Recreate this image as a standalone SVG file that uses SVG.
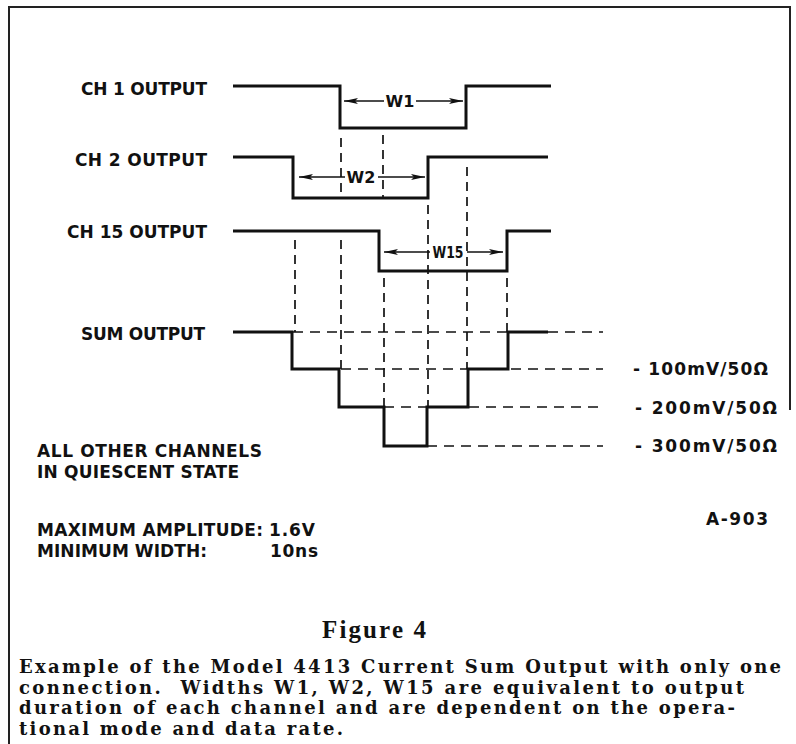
<svg xmlns="http://www.w3.org/2000/svg" width="796" height="744" viewBox="0 0 796 744">
<style>
.bg{fill:#fff}
.frame{fill:none;stroke:#222;stroke-width:2}
.wave{fill:none;stroke:#111;stroke-width:3;stroke-linejoin:miter}
.guide{fill:none;stroke:#111;stroke-width:1.7;stroke-dasharray:9 6}
.hguide{fill:none;stroke:#111;stroke-width:1.7;stroke-dasharray:10 7}
.dim{fill:none;stroke:#111;stroke-width:1.6}
.lbl{font-family:"DejaVu Sans","Liberation Sans",sans-serif;font-weight:bold;font-size:17px;fill:#111}
.wl{font-family:"DejaVu Sans","Liberation Sans",sans-serif;font-weight:bold;font-size:16px;fill:#111}
.cap{font-family:"DejaVu Serif","Liberation Serif",serif;font-weight:bold;font-size:18px;fill:#111}
.fig{font-family:"Liberation Serif","DejaVu Serif",serif;font-weight:bold;font-size:25px;fill:#111}
</style>
<defs>
<marker id="arr" viewBox="0 0 14 6" markerWidth="14" markerHeight="6" refX="14" refY="3" orient="auto" markerUnits="userSpaceOnUse">
<path d="M0,0 L14,3 L0,6 L3,3 z" fill="#111"/>
</marker>
</defs>
<rect class="bg" x="0" y="0" width="796" height="744"/>
<g id="frame">
<path class="frame" d="M9,744 V7 H790 V410"/>
</g>
<g id="labels">
<text class="lbl" x="207" y="95" text-anchor="end" textLength="126" lengthAdjust="spacing">CH 1 OUTPUT</text>
<text class="lbl" x="207" y="166" text-anchor="end" textLength="132" lengthAdjust="spacing">CH 2 OUTPUT</text>
<text class="lbl" x="207" y="238" text-anchor="end" textLength="140" lengthAdjust="spacing">CH 15 OUTPUT</text>
<text class="lbl" x="205" y="340" text-anchor="end" textLength="124" lengthAdjust="spacing">SUM OUTPUT</text>
</g>
<g id="ch1">
<path class="wave" d="M233,86 H340 V128 H466 V86 H551"/>
</g>
<g id="ch2">
<path class="wave" d="M233,157 H293 V198 H428 V157 H548"/>
</g>
<g id="ch15">
<path class="wave" d="M233,231 H379 V271 H507 V231 H551"/>
</g>
<g id="sum">
<path class="wave" d="M233,332 H292 V369 H339 V407 H384 V446 H427 V407 H468 V369 H508 V332 H548"/>
</g>
<g id="connectors">
<path class="guide" d="M341,138 V198 M341,240 V369 M383,135 V198 M384,278 V407 M295,240 V332 M428,205 V407 M467,167 V369 M507,278 V332"/>
<path class="hguide" d="M293,332 H603 M341,369 H603 M384,407 H603 M427,446 H603"/>
<path class="dim" marker-end="url(#arr)" d="M384,101 H344"/>
<path class="dim" marker-end="url(#arr)" d="M416,101 H463"/>
<path class="dim" marker-end="url(#arr)" d="M345,177 H299"/>
<path class="dim" marker-end="url(#arr)" d="M378,177 H425"/>
<path class="dim" marker-end="url(#arr)" d="M430,252 H384"/>
<path class="dim" marker-end="url(#arr)" d="M467,252 H503"/>
</g>
<g id="widths">
<text class="wl" x="400" y="107" text-anchor="middle">W1</text>
<text class="wl" x="361" y="183" text-anchor="middle">W2</text>
<text class="wl" x="448" y="258" text-anchor="middle" textLength="31" lengthAdjust="spacingAndGlyphs">W15</text>
</g>
<g id="levels">
<text class="lbl" x="633" y="375" textLength="135" lengthAdjust="spacing">- 100mV/50Ω</text>
<text class="lbl" x="635" y="414" textLength="142" lengthAdjust="spacing">- 200mV/50Ω</text>
<text class="lbl" x="635" y="452" textLength="142" lengthAdjust="spacing">- 300mV/50Ω</text>
</g>
<g id="notes">
<text class="lbl" x="37" y="457" textLength="225" lengthAdjust="spacing">ALL OTHER CHANNELS</text>
<text class="lbl" x="37" y="478" textLength="202" lengthAdjust="spacing">IN QUIESCENT STATE</text>
<text class="lbl" x="37" y="536" textLength="226" lengthAdjust="spacing">MAXIMUM AMPLITUDE:</text>
<text class="lbl" x="269" y="536" textLength="46" lengthAdjust="spacing">1.6V</text>
<text class="lbl" x="37" y="557" textLength="170" lengthAdjust="spacing">MINIMUM WIDTH:</text>
<text class="lbl" x="270" y="557" textLength="48" lengthAdjust="spacing">10ns</text>
<text class="lbl" x="706" y="525" textLength="62" lengthAdjust="spacing">A-903</text>
</g>
<g id="caption">
<text class="fig" x="322" y="638" textLength="104" lengthAdjust="spacing">Figure 4</text>
<text class="cap" x="19" y="673" textLength="762" lengthAdjust="spacing">Example of the Model 4413 Current Sum Output with only one</text>
<text class="cap" x="19" y="694" textLength="725" lengthAdjust="spacing">connection.&#160; Widths W1, W2, W15 are equivalent to output</text>
<text class="cap" x="19" y="714" textLength="716" lengthAdjust="spacing">duration of each channel and are dependent on the opera-</text>
<text class="cap" x="19" y="735" textLength="324" lengthAdjust="spacing">tional mode and data rate.</text>
</g>
</svg>
